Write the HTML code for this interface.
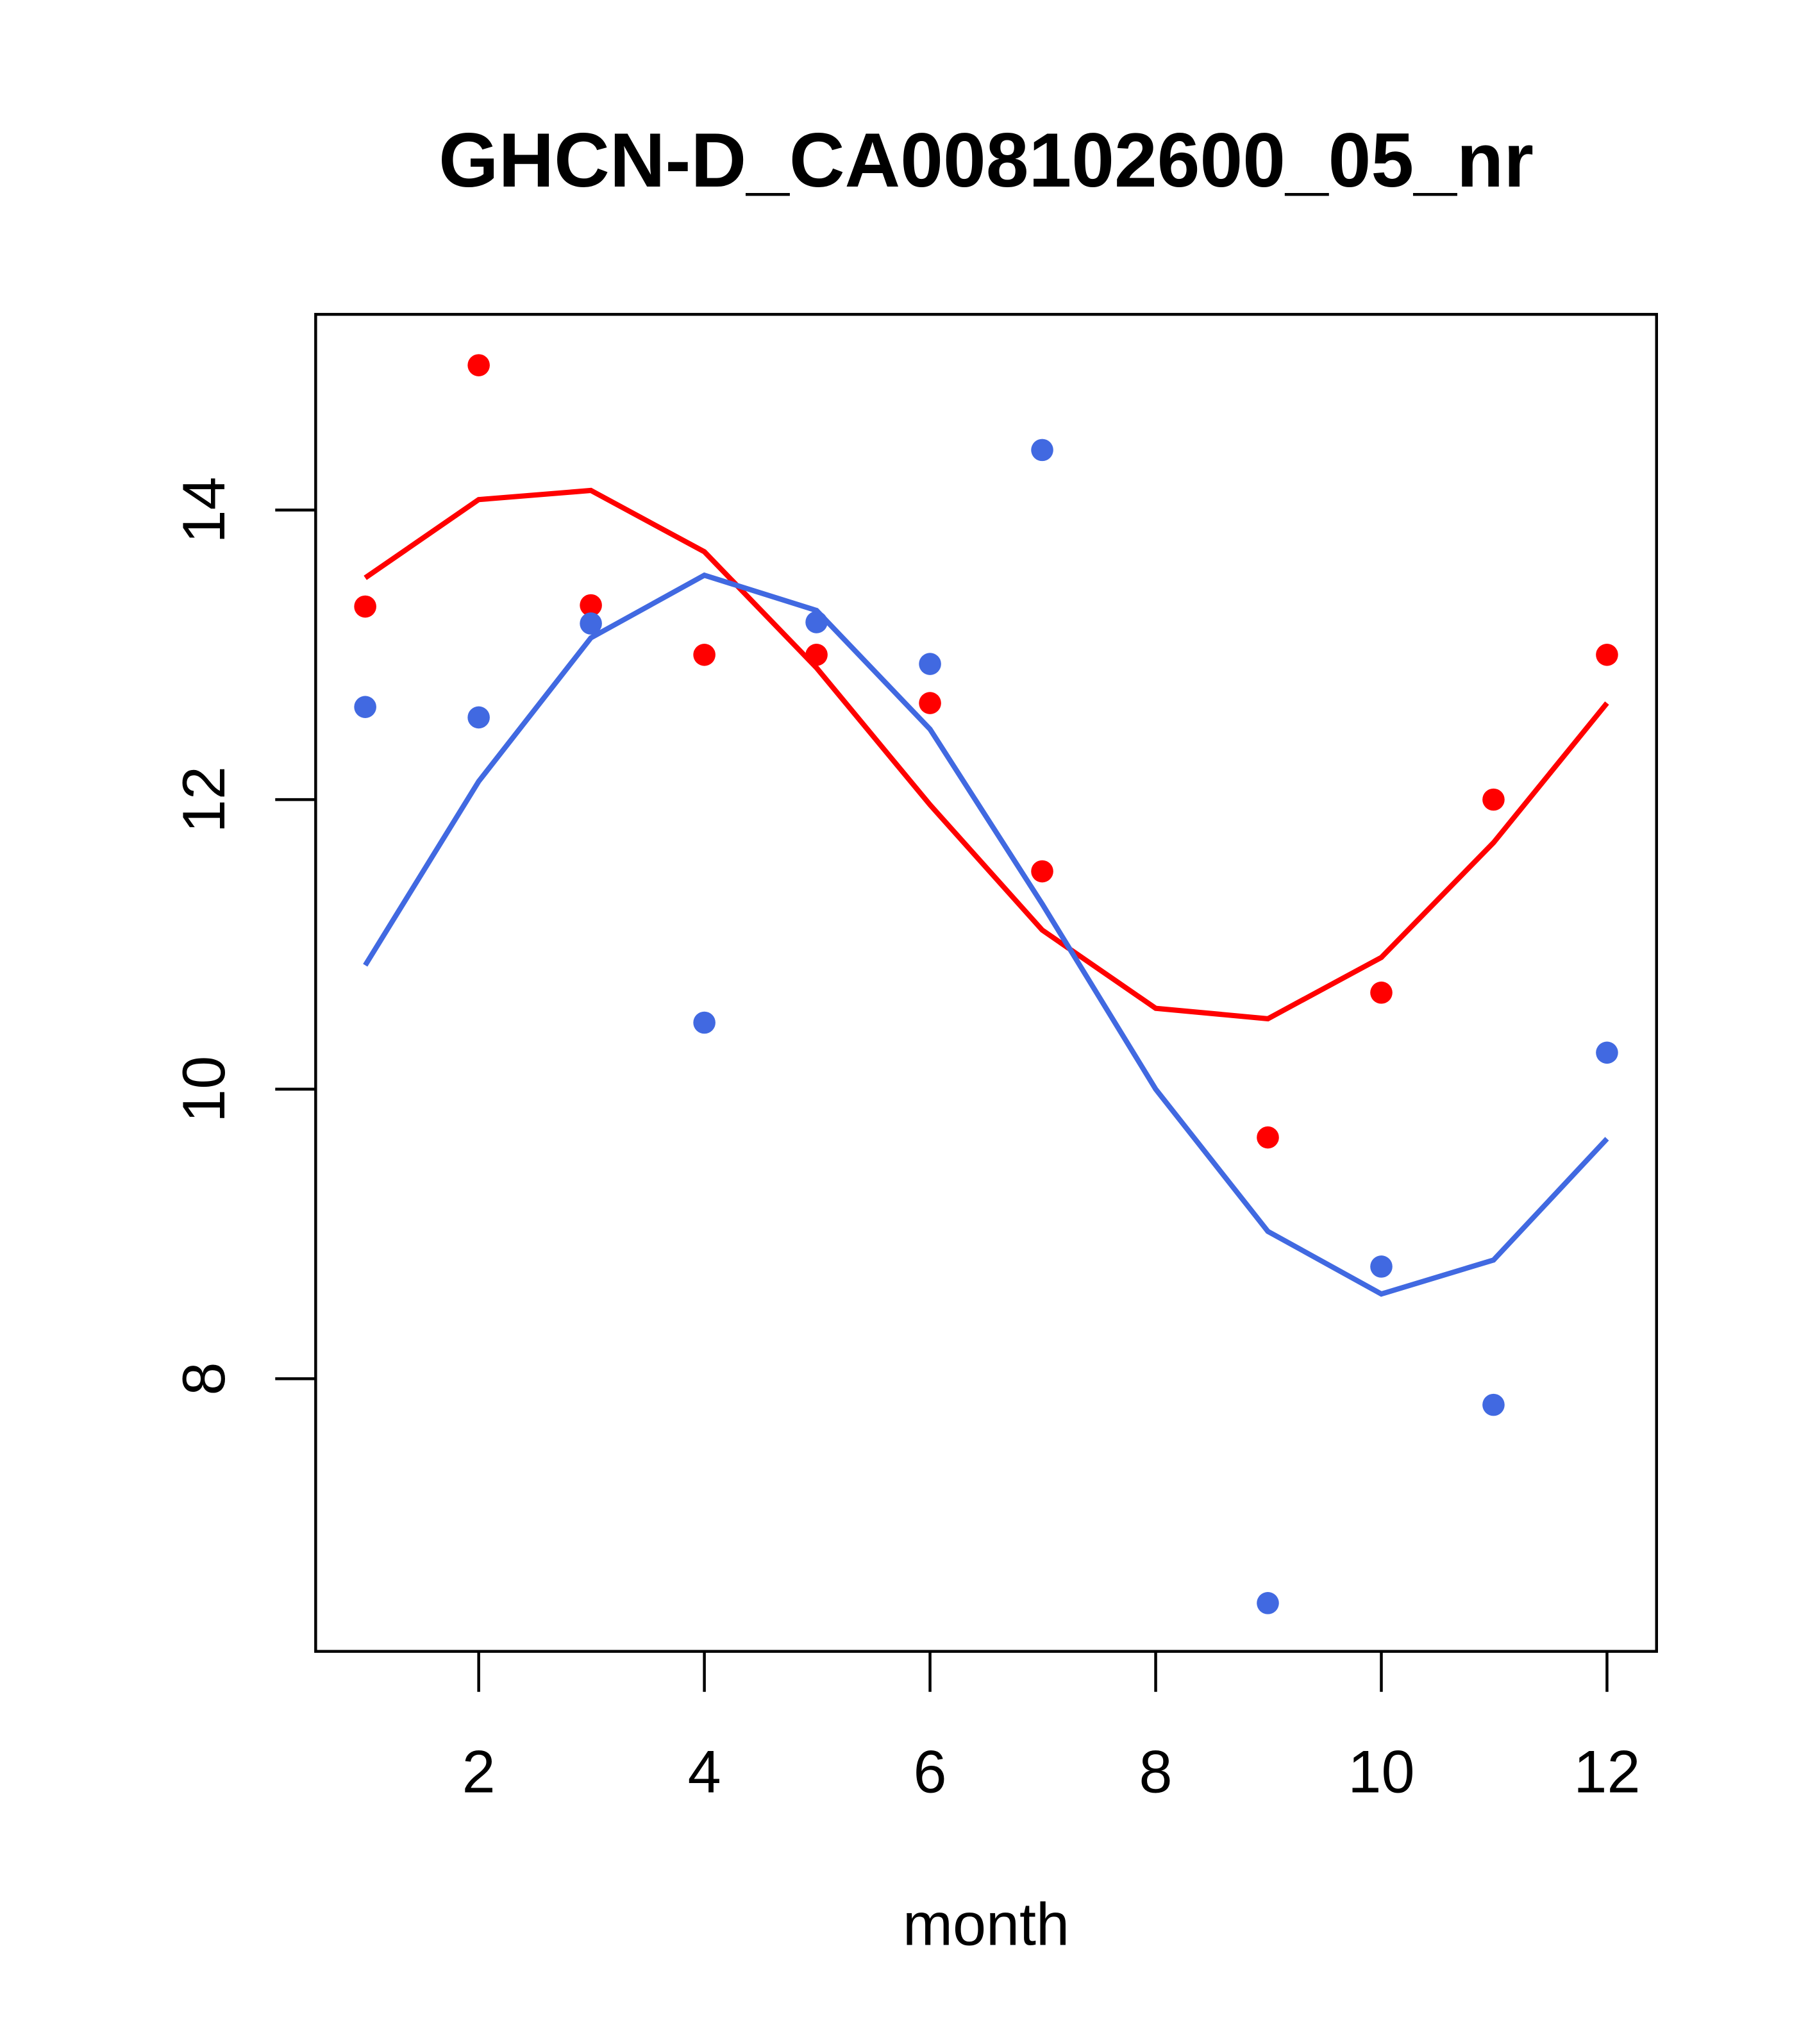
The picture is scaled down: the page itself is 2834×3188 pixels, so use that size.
<!DOCTYPE html>
<html><head><meta charset="utf-8"><style>html,body{margin:0;padding:0;background:#fff}svg{display:block}</style></head>
<body>
<svg width="2834" height="3188" viewBox="0 0 1393 1567" preserveAspectRatio="none" xmlns="http://www.w3.org/2000/svg" font-family="Liberation Sans, sans-serif">
<rect width="1393" height="1567" fill="#fff"/>
<text x="756" y="143" font-size="59" font-weight="bold" text-anchor="middle">GHCN-D_CA008102600_05_nr</text>
<rect x="242" y="241" width="1028" height="1025" fill="none" stroke="#000" stroke-width="2.2"/>
<g stroke="#000" stroke-width="2.2">
<line x1="367" y1="1266" x2="367" y2="1297"/><line x1="540" y1="1266" x2="540" y2="1297"/><line x1="713" y1="1266" x2="713" y2="1297"/><line x1="886" y1="1266" x2="886" y2="1297"/><line x1="1059" y1="1266" x2="1059" y2="1297"/><line x1="1232" y1="1266" x2="1232" y2="1297"/>
<line x1="242" y1="391" x2="211" y2="391"/><line x1="242" y1="613" x2="211" y2="613"/><line x1="242" y1="835" x2="211" y2="835"/><line x1="242" y1="1057" x2="211" y2="1057"/>
</g>
<g font-size="46" text-anchor="middle">
<text x="367" y="1374">2</text><text x="540" y="1374">4</text><text x="713" y="1374">6</text><text x="886" y="1374">8</text><text x="1059" y="1374">10</text><text x="1232" y="1374">12</text>
<text x="756" y="1491">month</text>
<text transform="translate(172,391) rotate(-90)">14</text>
<text transform="translate(172,613) rotate(-90)">12</text>
<text transform="translate(172,835) rotate(-90)">10</text>
<text transform="translate(172,1057) rotate(-90)">8</text>
</g>
<polyline fill="none" stroke="#ff0000" stroke-width="4" points="280,443 367,383 453,376 540,423 626,512 713,617 799,713 886,773 972,781 1059,734 1145,646 1232,539"/>
<polyline fill="none" stroke="#4169e1" stroke-width="4" points="280,740 367,599 453,489 540,441 626,468 713,559 799,693 886,835 972,944 1059,992 1145,966 1232,873"/>
<g fill="#ff0000">
<circle cx="280" cy="465" r="8.5"/><circle cx="367" cy="280" r="8.5"/><circle cx="453" cy="464" r="8.5"/><circle cx="540" cy="502" r="8.5"/><circle cx="626" cy="502" r="8.5"/><circle cx="713" cy="539" r="8.5"/><circle cx="799" cy="668" r="8.5"/><circle cx="972" cy="872" r="8.5"/><circle cx="1059" cy="761" r="8.5"/><circle cx="1145" cy="613" r="8.5"/><circle cx="1232" cy="502" r="8.5"/>
</g>
<g fill="#4169e1">
<circle cx="280" cy="542" r="8.5"/><circle cx="367" cy="550" r="8.5"/><circle cx="453" cy="478" r="8.5"/><circle cx="540" cy="784" r="8.5"/><circle cx="626" cy="477" r="8.5"/><circle cx="713" cy="509" r="8.5"/><circle cx="799" cy="345" r="8.5"/><circle cx="972" cy="1229" r="8.5"/><circle cx="1059" cy="971" r="8.5"/><circle cx="1145" cy="1077" r="8.5"/><circle cx="1232" cy="807" r="8.5"/>
</g>
</svg>
</body></html>
